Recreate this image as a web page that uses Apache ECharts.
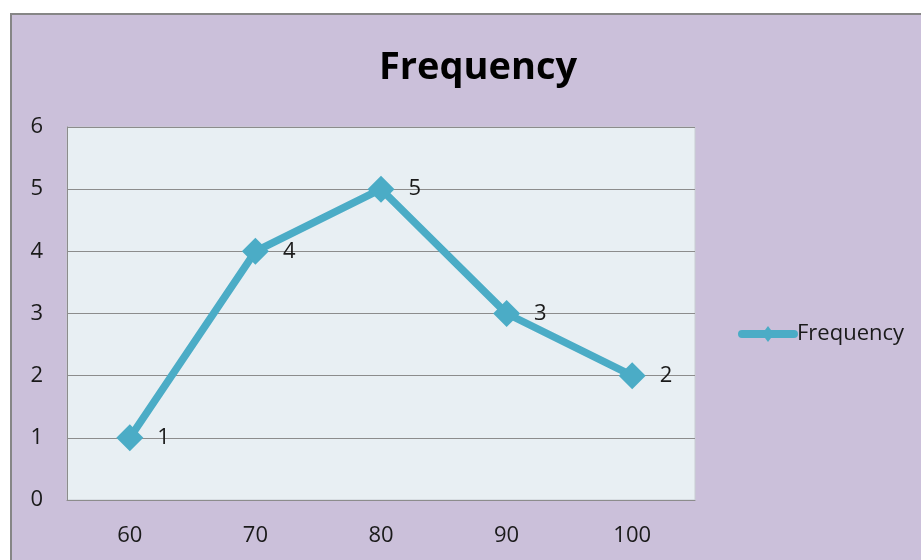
<!DOCTYPE html>
<html>
<head>
<meta charset="utf-8">
<script src="https://cdn.jsdelivr.net/npm/echarts@6/dist/echarts.min.js"></script>
<style>
  html, body { margin: 0; padding: 0; background: #fff; }
  #chart { width: 921px; height: 560px; }
</style>
</head>
<body>
<div id="chart"></div>
<script>
const categories = ['60', '70', '80', '90', '100']
const frequency = [1, 4, 5, 3, 2]
const seriesName = 'Frequency'

const font = "'Open Sans', 'Noto Sans', sans-serif"
const lineColor = '#4bacc6'
// legend icon: thick rounded line with a small diamond in the middle
const legendIcon = 'path://M4,9 L56,9 A4,4 0 0 1 56,17 L4,17 A4,4 0 0 1 4,9 Z M30,5 L36,13 L30,21 L24,13 Z'

const chart = echarts.init(document.getElementById('chart'))

const option = {
  backgroundColor: '#ffffff',
  animation: false,
  graphic: [
    {
      type: 'rect',
      z: -10,
      shape: { x: 11, y: 14, width: 930, height: 560 },
      style: { fill: '#cbc0da', stroke: '#868686', lineWidth: 2 }
    }
  ],
  title: {
    text: 'Frequency',
    left: 473,
    textAlign: 'center',
    top: 44,
    textStyle: { fontFamily: font, fontWeight: 'bold', fontSize: 38, color: '#000' }
  },
  legend: {
    data: [{ name: seriesName, icon: legendIcon }],
    left: 733,
    top: 318,
    itemWidth: 60,
    itemHeight: 17,
    itemGap: 0,
    textStyle: { fontFamily: font, fontSize: 22, color: '#1a1a1a', padding: [0, 0, 0, -6] }
  },
  grid: {
    left: 67,
    top: 127,
    width: 628,
    height: 373,
    show: true,
    backgroundColor: '#e8eff3',
    borderColor: '#c9cdd2',
    borderWidth: 1
  },
  xAxis: {
    type: 'category',
    data: categories,
    boundaryGap: true,
    axisLine: { lineStyle: { color: '#8c8c8c', width: 1 } },
    axisTick: { show: false },
    axisLabel: { margin: 25, fontFamily: font, fontSize: 22, color: '#1a1a1a' },
    splitLine: { show: false }
  },
  yAxis: {
    type: 'value',
    min: 0,
    max: 6,
    interval: 1,
    axisLine: { show: true, lineStyle: { color: '#8c8c8c', width: 1 } },
    axisTick: { show: false },
    axisLabel: { margin: 24, fontFamily: font, fontSize: 22, color: '#1a1a1a' },
    splitLine: { lineStyle: { color: '#8c8c8c', width: 1 } }
  },
  series: [
    {
      name: seriesName,
      type: 'line',
      data: frequency,
      symbol: 'diamond',
      symbolSize: 27,
      lineStyle: { color: lineColor, width: 7.5, cap: 'round', join: 'round' },
      itemStyle: { color: lineColor },
      label: {
        show: true,
        position: 'right',
        distance: 14,
        fontFamily: font,
        fontSize: 22,
        color: '#1a1a1a'
      }
    }
  ]
}

chart.setOption(option)
</script>
</body>
</html>
